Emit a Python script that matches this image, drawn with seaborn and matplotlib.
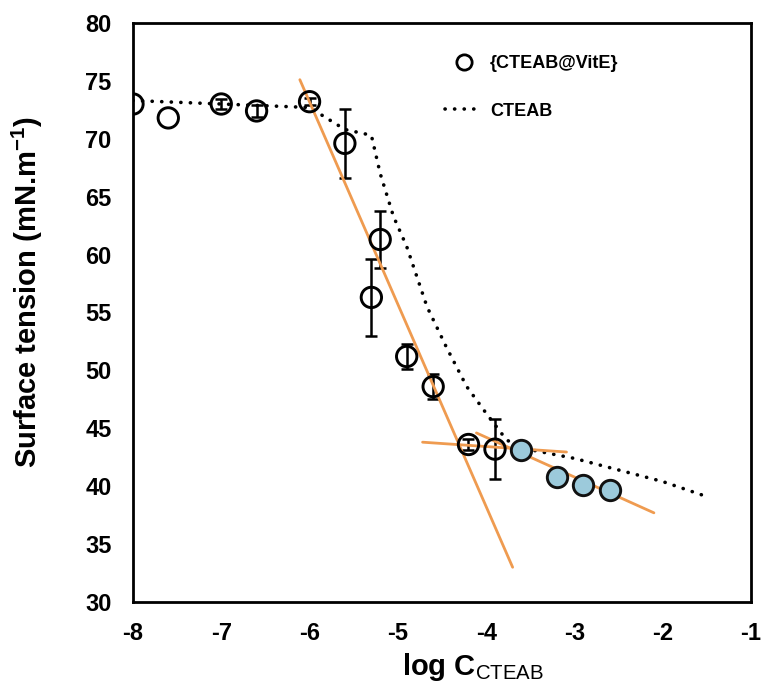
import matplotlib
matplotlib.use("Agg")
import matplotlib.pyplot as plt
import seaborn as sns
import pandas as pd
from matplotlib.lines import Line2D

# ---- data ----
logc = [-8.0, -7.6, -7.0, -6.6, -6.0, -5.6, -5.3, -5.2, -4.9, -4.6, -4.2, -3.9, -3.6, -3.2, -2.9, -2.6]
tension = [73.0, 71.8, 73.0, 72.4, 73.2, 69.6, 56.3, 61.3, 51.2, 48.6, 43.6, 43.2, 43.1, 40.8, 40.1, 39.7]
err = [0.0, 0.0, 0.4, 0.5, 0.3, 3.0, 3.3, 2.5, 1.1, 1.1, 0.5, 2.6, 0.3, 0.0, 0.0, 0.0]
filled = [False] * 12 + [True] * 4

cteab_x = [-8.0, -6.0, -5.6, -5.3, -5.2, -5.05, -4.9, -4.67, -4.45, -4.22, -4.0, -3.77, -3.6, -3.0, -2.5, -2.0, -1.5]
cteab_y = [73.3, 72.7, 70.8, 70.3, 67.0, 63.3, 60.7, 55.5, 52.0, 48.6, 46.3, 44.0, 43.3, 42.4, 41.4, 40.4, 39.1]

fit1_x = [-6.11, -3.70]
fit1_y = [75.1, 33.0]
fit2_x = [-4.72, -3.09]
fit2_y = [43.8, 42.95]
fit3_x = [-4.11, -2.10]
fit3_y = [44.6, 37.7]

xticks = [-8, -7, -6, -5, -4, -3, -2, -1]
yticks = [30, 35, 40, 45, 50, 55, 60, 65, 70, 75, 80]

# ---- style ----
sns.set_style("white")
plt.rcParams["font.family"] = ["Liberation Sans", "DejaVu Sans"]
plt.rcParams["mathtext.fontset"] = "custom"
plt.rcParams["mathtext.rm"] = "Liberation Sans"
plt.rcParams["mathtext.bf"] = "Liberation Sans:bold"
plt.rcParams["text.color"] = "black"
plt.rcParams["axes.labelcolor"] = "black"
plt.rcParams["xtick.color"] = "black"
plt.rcParams["ytick.color"] = "black"

fig = plt.figure(figsize=(7.62, 6.95), dpi=100)
ax = fig.add_axes([0.1745, 0.1338, 0.8111, 0.8332])

orange = "#EF9B50"
dotted = (0, (0.05, 2.6))
df_c = pd.DataFrame({"x": cteab_x, "y": cteab_y})
sns.lineplot(data=df_c, x="x", y="y", ax=ax, color="black", lw=2.6,
             linestyle=dotted, dash_capstyle="round", zorder=2, sort=False)

for fx, fy in [(fit1_x, fit1_y), (fit2_x, fit2_y), (fit3_x, fit3_y)]:
    sns.lineplot(x=fx, y=fy, ax=ax, color=orange, lw=2.0, zorder=4, sort=False)

ex = [x for x, e in zip(logc, err) if e > 0]
ey = [y for y, e in zip(tension, err) if e > 0]
ee = [e for e in err if e > 0]
ax.errorbar(ex, ey, yerr=ee, fmt="none", ecolor="black", elinewidth=1.8,
            capsize=4, capthick=1.8, zorder=3)

df_p = pd.DataFrame({"x": logc, "y": tension, "f": filled})
sns.scatterplot(data=df_p[~df_p["f"]], x="x", y="y", ax=ax, s=215, marker="o",
                facecolor="none", edgecolor="black", linewidth=2.1, zorder=5)
sns.scatterplot(data=df_p[df_p["f"]], x="x", y="y", ax=ax, s=215, marker="o",
                color="#9CCADB", edgecolor="#111111", linewidth=2.1, zorder=5)

ax.set_xlim(-8, -1)
ax.set_ylim(30, 80)
ax.set_xticks(xticks)
ax.set_yticks(yticks)
ax.set_xticklabels([str(t) for t in xticks])
ax.set_yticklabels([str(t) for t in yticks])
for lab in ax.get_xticklabels() + ax.get_yticklabels():
    lab.set_fontweight("bold")
    lab.set_fontsize(17)
ax.tick_params(axis="both", direction="out", length=5.5, width=1.8, color="black")
ax.tick_params(axis="y", pad=10)
ax.tick_params(axis="x", pad=9)

for sp in ax.spines.values():
    sp.set_visible(True)
    sp.set_color("black")
    sp.set_linewidth(2.0)

ax.set_xlabel(r"log C$_{\mathrm{CTEAB}}$", fontsize=21, fontweight="bold")
ax.set_ylabel(r"Surface tension (mN.m$^{\mathbf{-1}}$)", fontsize=21, fontweight="bold")
ax.xaxis.set_label_coords(0.55, -0.084)
ax.yaxis.set_label_coords(-0.142, 0.535)

handles = [
    Line2D([], [], marker="o", linestyle="none", markersize=11, markerfacecolor="none",
           markeredgecolor="black", markeredgewidth=2.0),
    Line2D([], [], color="black", lw=2.6, linestyle=dotted, dash_capstyle="round"),
]
leg = ax.legend(handles, ["{CTEAB@VitE}", "CTEAB"], loc="upper left",
                bbox_to_anchor=(0.478, 0.973), frameon=False, handlelength=2.1,
                handletextpad=0.4, labelspacing=1.7,
                prop={"weight": "bold", "size": 13})

fig.savefig("out.png", dpi=100)
